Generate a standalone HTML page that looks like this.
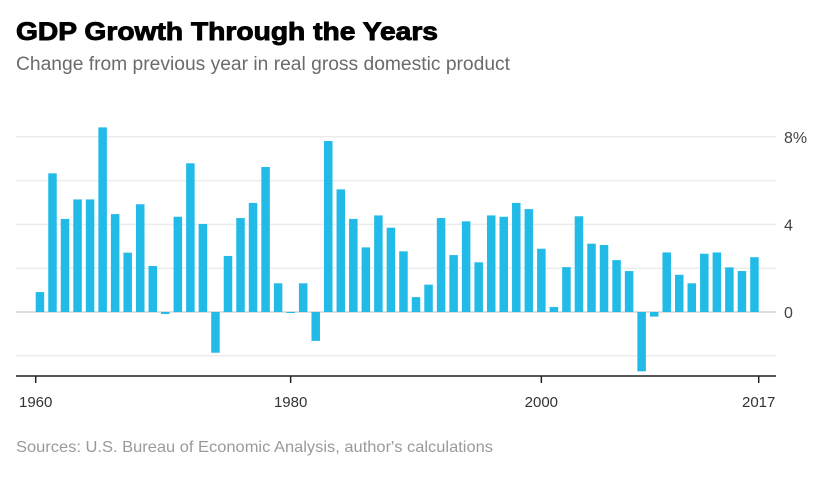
<!DOCTYPE html>
<html><head><meta charset="utf-8">
<style>
html,body{margin:0;padding:0;background:#fff;}
svg{display:block;font-family:"Liberation Sans",sans-serif;}
</style></head>
<body>
<svg id="chart" width="822" height="478" viewBox="0 0 822 478" xmlns="http://www.w3.org/2000/svg">
  <text x="16" y="40" font-size="25" font-weight="bold" fill="#000" stroke="#000" stroke-width="0.9" textLength="422" lengthAdjust="spacingAndGlyphs">GDP Growth Through the Years</text>
  <text x="16" y="70" font-size="19" fill="#6b6b6b" textLength="494" lengthAdjust="spacingAndGlyphs">Change from previous year in real gross domestic product</text>
  <g id="grid"></g>
  <g id="bars"></g>
  <g id="axis"></g>
  <text x="16" y="452" font-size="16" fill="#9a9a9a" textLength="477" lengthAdjust="spacingAndGlyphs">Sources: U.S. Bureau of Economic Analysis, author's calculations</text>
</svg>
<script>
const years = [];
for (let y = 1960; y <= 2017; y++) years.push(y);
const growth = [0.91,6.33,4.25,5.14,5.14,8.43,4.47,2.71,4.92,2.10,
  -0.09,4.35,6.79,4.02,-1.86,2.56,4.29,4.98,6.62,1.31,
  -0.03,1.31,-1.32,7.81,5.60,4.25,2.95,4.41,3.85,2.77,
  0.68,1.25,4.29,2.60,4.14,2.27,4.41,4.35,4.98,4.70,
  2.89,0.23,2.05,4.37,3.12,3.06,2.37,1.87,-2.71,-0.21,
  2.72,1.70,1.31,2.66,2.72,2.04,1.87,2.50];
const gridValues = [-2,0,2,4,6,8];
const yTickValues = [0,4,8];
const yTickLabels = ["0","4","8%"];
const xTickYears = [1960,1980,2000,2017];

const NS = "http://www.w3.org/2000/svg";
const X0 = 35.7, X1 = 758.7, LEFT = 16, RIGHT = 776;
const barW = 8.5;
const step = (X1 - X0 - barW) / (years.length - 1);
function yScale(v){ return 312 - v * 21.9; }
function xBand(i){ return X0 + i * step; }
function xTick(year){
  const i = years.indexOf(year);
  if (i === 0) return xBand(0);
  if (i === years.length - 1) return xBand(i) + barW;
  return xBand(i) + barW / 2;
}
function mk(tag, attrs, parent){
  const e = document.createElementNS(NS, tag);
  for (const k in attrs) e.setAttribute(k, attrs[k]);
  parent.appendChild(e); return e;
}
const grid = document.getElementById('grid');
gridValues.forEach(v => {
  const l = mk('line', {x1:LEFT, x2:RIGHT, y1:yScale(v), y2:yScale(v), stroke: v===0 ? '#d4d4d4' : '#ececec', 'stroke-width': 1.5}, grid);
  
  
});
yTickValues.forEach((v, i) => {
  const t = mk('text', {x:784, y:yScale(v)+6, 'font-size':16, fill:'#444'}, grid);
  t.textContent = yTickLabels[i];
  
  
});
const bars = document.getElementById('bars');
growth.forEach((v, i) => {
  const y = Math.min(yScale(v), yScale(0));
  const h = Math.max(Math.abs(yScale(v) - yScale(0)), 1);
  const r = mk('rect', {x:xBand(i), y:y, width:barW, height:h, fill:'#22bbe7'}, bars);
  
  
});
const axis = document.getElementById('axis');
const al = mk('line', {x1:LEFT, x2:RIGHT, y1:376, y2:376, stroke:'#222', 'stroke-width':1.5}, axis);


xTickYears.forEach(yr => {
  const x = xTick(yr);
  const tk = mk('line', {x1:x, x2:x, y1:376, y2:383, stroke:'#222', 'stroke-width':1.5}, axis);
  
  
  const t = mk('text', {x:x, y:407, 'font-size':15, fill:'#333', 'text-anchor':'middle'}, axis);
  t.textContent = String(yr);
  
  
});
</script>
</body></html>
